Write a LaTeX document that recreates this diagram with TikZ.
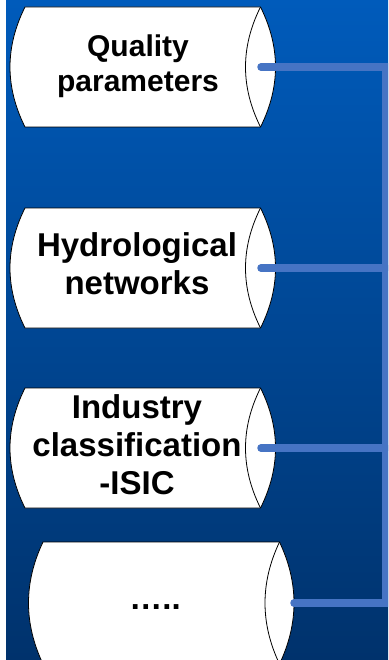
\documentclass[tikz,border=0pt]{standalone}
\usepackage{fontspec}
\setmainfont{Liberation Sans}
\definecolor{bgtop}{RGB}{0,91,187}
\definecolor{bgbot}{RGB}{0,50,108}
\definecolor{connblue}{RGB}{70,116,196}
\tikzset{
  cyl/.style={draw=black, line width=0.8pt, fill=white, line join=miter},
  capline/.style={draw=black, line width=0.8pt},
  lbl/.style={font=\bfseries\fontsize{33}{38}\selectfont, align=center, text=black, inner sep=0pt},
  lblsmall/.style={lbl, font=\bfseries\fontsize{30}{35}\selectfont},
  conn/.style={draw=connblue, line width=7.5pt, line join=miter},
}
% xL (left chord), xR (right chord), sagitta, yc, half height
\newcommand\mycyl[5]{%
  \filldraw[cyl] (#1,#4+#5) -- (#2,#4+#5)
     .. controls (#2+4/3*#3,#4+#5/3) and (#2+4/3*#3,#4-#5/3) .. (#2,#4-#5)
     -- (#1,#4-#5)
     .. controls (#1-4/3*#3,#4-#5/3) and (#1-4/3*#3,#4+#5/3) .. (#1,#4+#5) -- cycle;
  \draw[capline] (#2,#4+#5) .. controls (#2-4/3*#3,#4+#5/3) and (#2-4/3*#3,#4-#5/3) .. (#2,#4-#5);
}
\begin{document}
\begin{tikzpicture}[x=1pt,y=1pt]
\useasboundingbox (0,0) rectangle (388,-660);
\clip (0,0) rectangle (388,-660);
\fill[white] (0,0) rectangle (6,-660);
\shade[top color=bgtop, bottom color=bgbot] (6,0) rectangle (388,-660);

\mycyl{25}{260.5}{15}{-67}{60}
\mycyl{25}{260.5}{15}{-268}{60}
\mycyl{25}{260.5}{15}{-448}{60}
\mycyl{43}{279.5}{14.5}{-603}{61}

\node[lblsmall] (t1) at (138,-66) {Quality\\parameters};
\node[lbl] (t2) at (137,-264) {Hydrological\\networks};
\node[lbl] (t3) at (137,-445) {Industry\\classification\\-ISIC};
\node[lbl] (t4) at (155,-607) {…..};

\coordinate (c1) at (261,-67);
\coordinate (c2) at (261,-268);
\coordinate (c3) at (261,-448);
\coordinate (c4) at (294,-603);
\coordinate (b1) at (385.5,-67);
\coordinate (b2) at (385.5,-268);
\coordinate (b3) at (385.5,-448);
\coordinate (b4) at (385.5,-603);

\draw[conn, line cap=round] (c1) -- (b1) -- (b4) -- (c4);
\draw[conn, line cap=round] (c2) -- (b2);
\draw[conn, line cap=round] (c3) -- (b3);
\end{tikzpicture}
\end{document}
